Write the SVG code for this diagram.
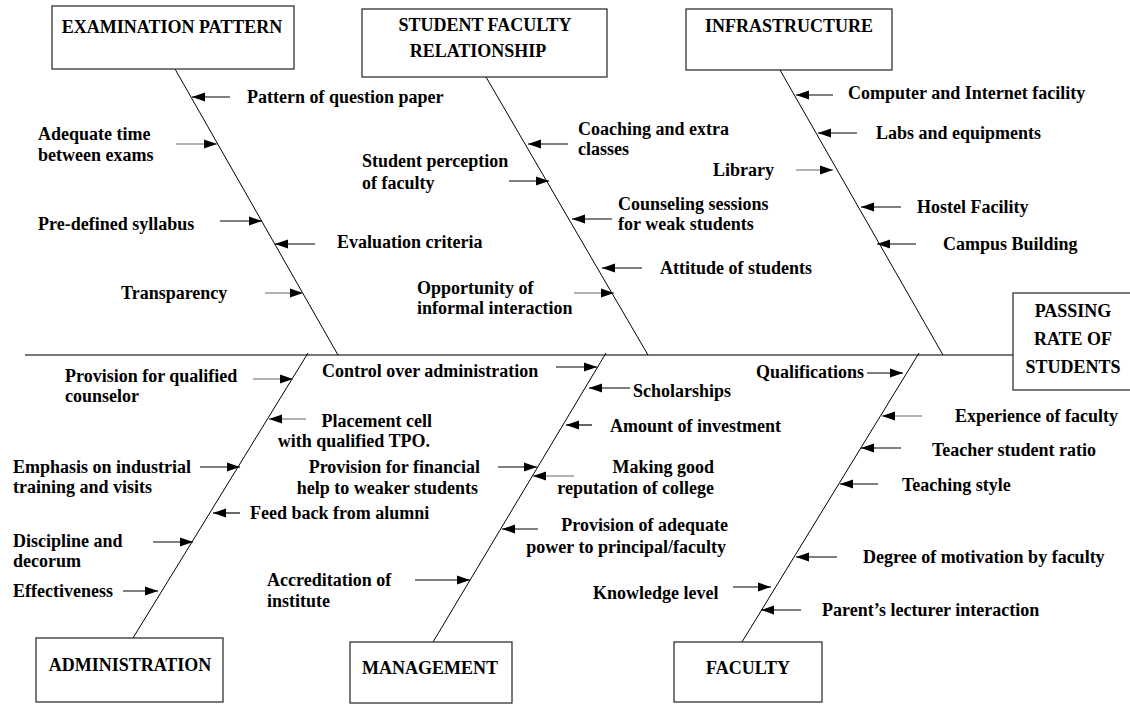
<svg xmlns="http://www.w3.org/2000/svg" width="1130" height="704" viewBox="0 0 1130 704">
  <style>
    text { font-family: "Liberation Serif", "Times New Roman", serif; font-weight: bold; font-size: 18px; fill: #000; }
    .box { fill: #fff; stroke: #333; stroke-width: 1.3; }
    .bone { stroke: #000; stroke-width: 1; fill: none; }
    .spine { stroke: #777; stroke-width: 2; fill: none; }
    .arr { stroke: #000; stroke-width: 1.2; fill: none; marker-end: url(#head); }
    .arr.g { stroke: #666; }
    .end { text-anchor: end; }
    .mid { text-anchor: middle; }
  </style>
  <defs>
    <marker id="head" markerUnits="userSpaceOnUse" markerWidth="14" markerHeight="12" refX="13" refY="6" orient="auto">
      <path d="M0,1.5 L13,6 L0,10.5 Z" fill="#000"/>
    </marker>
  </defs>

  <rect width="1130" height="704" fill="#fff"/>

  <!-- spine and category bones -->
  <g id="connectors">
    <line class="spine" x1="25" y1="355" x2="1013" y2="355"/>
    <line class="bone" x1="175" y1="69" x2="338" y2="355"/>
    <line class="bone" x1="486" y1="77" x2="648" y2="355"/>
    <line class="bone" x1="780" y1="70" x2="943" y2="355"/>
    <line class="bone" x1="308" y1="353" x2="133" y2="638"/>
    <line class="bone" x1="606" y1="353" x2="433" y2="642"/>
    <line class="bone" x1="919" y1="353" x2="742" y2="642"/>

    <!-- cause arrows -->
    <line class="arr" x1="230" y1="97" x2="192" y2="97"/>
    <line class="arr g" x1="176" y1="144" x2="217" y2="144"/>
    <line class="arr" x1="220" y1="221" x2="262" y2="221"/>
    <line class="arr" x1="315" y1="244" x2="275" y2="244"/>
    <line class="arr g" x1="265" y1="293" x2="303" y2="293"/>

    <line class="arr" x1="568" y1="144" x2="528" y2="144"/>
    <line class="arr" x1="509" y1="181" x2="549" y2="181"/>
    <line class="arr" x1="612" y1="219" x2="572" y2="219"/>
    <line class="arr" x1="642" y1="268" x2="602" y2="268"/>
    <line class="arr g" x1="574" y1="293" x2="614" y2="293"/>

    <line class="arr" x1="833" y1="95" x2="796" y2="95"/>
    <line class="arr" x1="857" y1="133" x2="818" y2="133"/>
    <line class="arr g" x1="796" y1="170" x2="833" y2="170"/>
    <line class="arr" x1="901" y1="207" x2="861" y2="207"/>
    <line class="arr" x1="916" y1="244" x2="877" y2="244"/>

    <line class="arr g" x1="253" y1="379" x2="293" y2="379"/>
    <line class="arr g" x1="306" y1="419" x2="269" y2="419"/>
    <line class="arr" x1="200" y1="467" x2="240" y2="467"/>
    <line class="arr" x1="240" y1="513" x2="213" y2="513"/>
    <line class="arr" x1="153" y1="542" x2="193" y2="542"/>
    <line class="arr" x1="123" y1="591" x2="158" y2="591"/>

    <line class="arr" x1="556" y1="367" x2="597" y2="367"/>
    <line class="arr" x1="630" y1="388" x2="589" y2="388"/>
    <line class="arr" x1="592" y1="425" x2="566" y2="425"/>
    <line class="arr" x1="498" y1="467" x2="537" y2="467"/>
    <line class="arr g" x1="574" y1="476" x2="533" y2="476"/>
    <line class="arr" x1="538" y1="529" x2="502" y2="529"/>
    <line class="arr" x1="415" y1="580" x2="470" y2="580"/>

    <line class="arr" x1="867" y1="373" x2="903" y2="373"/>
    <line class="arr g" x1="922" y1="416" x2="882" y2="416"/>
    <line class="arr" x1="901" y1="448" x2="861" y2="448"/>
    <line class="arr" x1="878" y1="484" x2="840" y2="484"/>
    <line class="arr" x1="837" y1="557" x2="796" y2="557"/>
    <line class="arr" x1="733" y1="587" x2="771" y2="587"/>
    <line class="arr" x1="801" y1="610" x2="761" y2="610"/>
  </g>

  <!-- category boxes -->
  <g id="exam-pattern">
    <rect class="box" x="52" y="6" width="242" height="63"/>
    <text class="mid" x="172" y="33">EXAMINATION PATTERN</text>
  </g>
  <g id="student-faculty">
    <rect class="box" x="362" y="9" width="245" height="68"/>
    <text class="mid" x="485" y="31">STUDENT FACULTY</text>
    <text class="mid" x="478" y="57">RELATIONSHIP</text>
  </g>
  <g id="infrastructure">
    <rect class="box" x="686" y="9" width="206" height="61"/>
    <text class="mid" x="789" y="32">INFRASTRUCTURE</text>
  </g>
  <g id="passing-rate">
    <rect class="box" x="1013" y="293" width="130" height="97"/>
    <text class="mid" x="1073" y="317">PASSING</text>
    <text class="mid" x="1073" y="345">RATE OF</text>
    <text class="mid" x="1073" y="373">STUDENTS</text>
  </g>
  <g id="administration">
    <rect class="box" x="36" y="638" width="187" height="64"/>
    <text class="mid" x="130" y="671">ADMINISTRATION</text>
  </g>
  <g id="management">
    <rect class="box" x="350" y="642" width="162" height="61"/>
    <text class="mid" x="430" y="674">MANAGEMENT</text>
  </g>
  <g id="faculty">
    <rect class="box" x="674" y="642" width="148" height="60"/>
    <text class="mid" x="748" y="674">FACULTY</text>
  </g>

  <!-- cause labels -->
  <g id="exam-causes">
    <text x="247" y="103">Pattern of question paper</text>
    <text x="38" y="140">Adequate time</text>
    <text x="38" y="161">between exams</text>
    <text x="38" y="230">Pre-defined syllabus</text>
    <text x="337" y="248">Evaluation criteria</text>
    <text x="121" y="299">Transparency</text>
  </g>
  <g id="student-causes">
    <text x="578" y="135">Coaching and extra</text>
    <text x="578" y="155">classes</text>
    <text x="362" y="167">Student perception</text>
    <text x="362" y="189">of faculty</text>
    <text x="618" y="210">Counseling sessions</text>
    <text x="618" y="230">for weak students</text>
    <text x="660" y="274">Attitude of students</text>
    <text x="417" y="294">Opportunity of</text>
    <text x="417" y="314">informal interaction</text>
  </g>
  <g id="infra-causes">
    <text x="848" y="99">Computer and Internet facility</text>
    <text x="876" y="139">Labs and equipments</text>
    <text x="713" y="176">Library</text>
    <text x="917" y="213">Hostel Facility</text>
    <text x="943" y="250">Campus Building</text>
  </g>
  <g id="admin-causes">
    <text x="65" y="382">Provision for qualified</text>
    <text x="65" y="402">counselor</text>
    <text class="end" x="432" y="427">Placement cell</text>
    <text class="end" x="430" y="447">with qualified TPO.</text>
    <text x="13" y="473">Emphasis on industrial</text>
    <text x="13" y="493">training and visits</text>
    <text x="250" y="519">Feed back from alumni</text>
    <text x="13" y="547">Discipline and</text>
    <text x="13" y="567">decorum</text>
    <text x="13" y="597">Effectiveness</text>
  </g>
  <g id="management-causes">
    <text x="322" y="377">Control over administration</text>
    <text x="633" y="397">Scholarships</text>
    <text x="610" y="432">Amount of investment</text>
    <text class="end" x="480" y="473">Provision for financial</text>
    <text class="end" x="478" y="494">help to weaker students</text>
    <text class="end" x="714" y="473">Making good</text>
    <text class="end" x="714" y="494">reputation of college</text>
    <text class="end" x="728" y="531">Provision of adequate</text>
    <text class="end" x="726" y="553">power to principal/faculty</text>
    <text x="267" y="586">Accreditation of</text>
    <text x="267" y="607">institute</text>
  </g>
  <g id="faculty-causes">
    <text class="end" x="864" y="378">Qualifications</text>
    <text x="955" y="422">Experience of faculty</text>
    <text x="932" y="456">Teacher student ratio</text>
    <text x="902" y="491">Teaching style</text>
    <text x="863" y="563">Degree of motivation by faculty</text>
    <text x="593" y="599">Knowledge level</text>
    <text x="822" y="616">Parent’s lecturer interaction</text>
  </g>
</svg>
